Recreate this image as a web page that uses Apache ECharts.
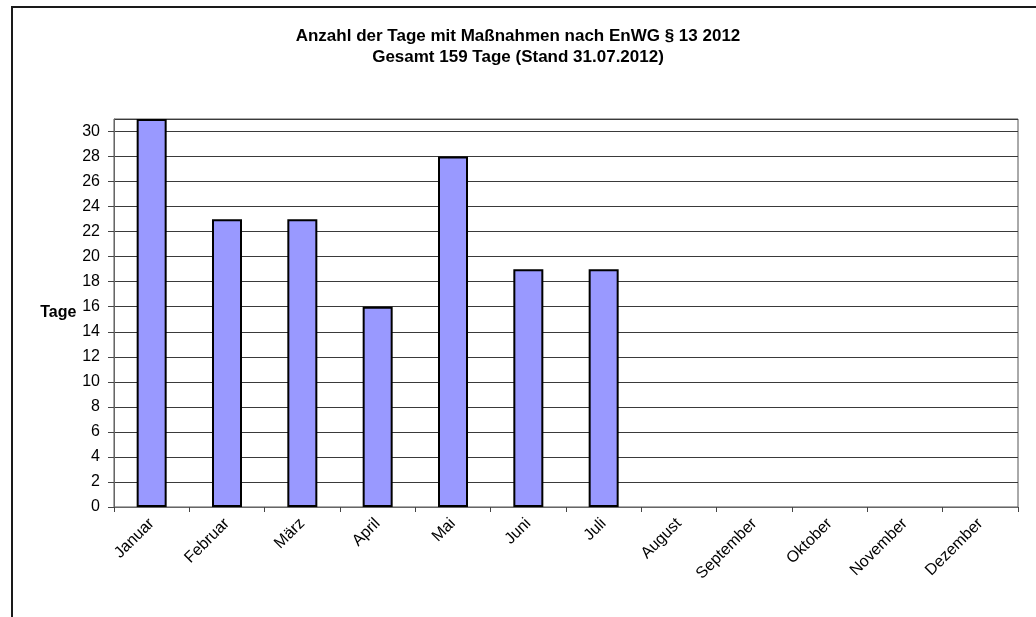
<!DOCTYPE html>
<html>
<head>
<meta charset="utf-8">
<script src="https://cdn.jsdelivr.net/npm/echarts@6/dist/echarts.min.js"></script>
<style>
  html, body { margin: 0; padding: 0; background: #fff; }
  #chart { width: 1036px; height: 617px; }
</style>
</head>
<body>
<div id="chart"></div>
<script>
const titleLines = ['Anzahl der Tage mit Maßnahmen nach EnWG § 13 2012', 'Gesamt 159 Tage (Stand 31.07.2012)'];
const months = ['Januar', 'Februar', 'März', 'April', 'Mai', 'Juni', 'Juli', 'August', 'September', 'Oktober', 'November', 'Dezember'];
const days = [31, 23, 23, 16, 28, 19, 19, null, null, null, null, null];
const yAxisName = 'Tage';

const chart = echarts.init(document.getElementById('chart'));
chart.setOption({
  animation: false,
  backgroundColor: '#fff',
  graphic: [{
    type: 'rect',
    shape: { x: 12, y: 7, width: 1100, height: 700 },
    style: { fill: 'none', stroke: '#1a1a1a', lineWidth: 2 },
    silent: true
  }],
  title: {
    text: titleLines.join('\n'),
    left: 'center',
    top: 26,
    padding: [0, 0, 0, 14],
    textStyle: {
      fontFamily: 'Liberation Sans, Arial, sans-serif',
      fontWeight: 'bold',
      fontSize: 17,
      lineHeight: 21,
      color: '#000'
    }
  },
  grid: {
    left: 114, right: 18, top: 119, bottom: 110,
    show: true, borderColor: '#555', borderWidth: 1, backgroundColor: 'transparent'
  },
  xAxis: {
    type: 'category',
    data: months,
    axisLine: { lineStyle: { color: '#666', width: 1 } },
    axisTick: { show: true, length: 5, alignWithLabel: false, lineStyle: { color: '#444' } },
    axisLabel: {
      rotate: 45, margin: 14, interval: 0,
      fontFamily: 'Liberation Sans, Arial, sans-serif', fontSize: 16, color: '#000'
    }
  },
  yAxis: {
    type: 'value',
    min: 0, max: 31, interval: 2,
    name: yAxisName,
    nameLocation: 'middle',
    nameRotate: 0,
    nameGap: 36,
    nameTextStyle: {
      fontFamily: 'Liberation Sans, Arial, sans-serif', fontWeight: 'bold', fontSize: 16, color: '#000'
    },
    axisLine: { show: true, lineStyle: { color: '#666', width: 1 } },
    axisTick: { show: true, length: 6, inside: false, lineStyle: { color: '#444' } },
    axisLabel: {
      showMaxLabel: false, margin: 14,
      fontFamily: 'Liberation Sans, Arial, sans-serif', fontSize: 16, color: '#000',
      formatter: function (v) { return v % 2 === 0 ? String(v) : ''; }
    },
    splitLine: { show: true, lineStyle: { color: '#3a3a3a', width: 1 } }
  },
  series: [{
    type: 'bar',
    data: days,
    barWidth: 30,
    itemStyle: { color: '#9999FF', borderColor: '#000', borderWidth: 2 }
  }]
});
</script>
</body>
</html>
